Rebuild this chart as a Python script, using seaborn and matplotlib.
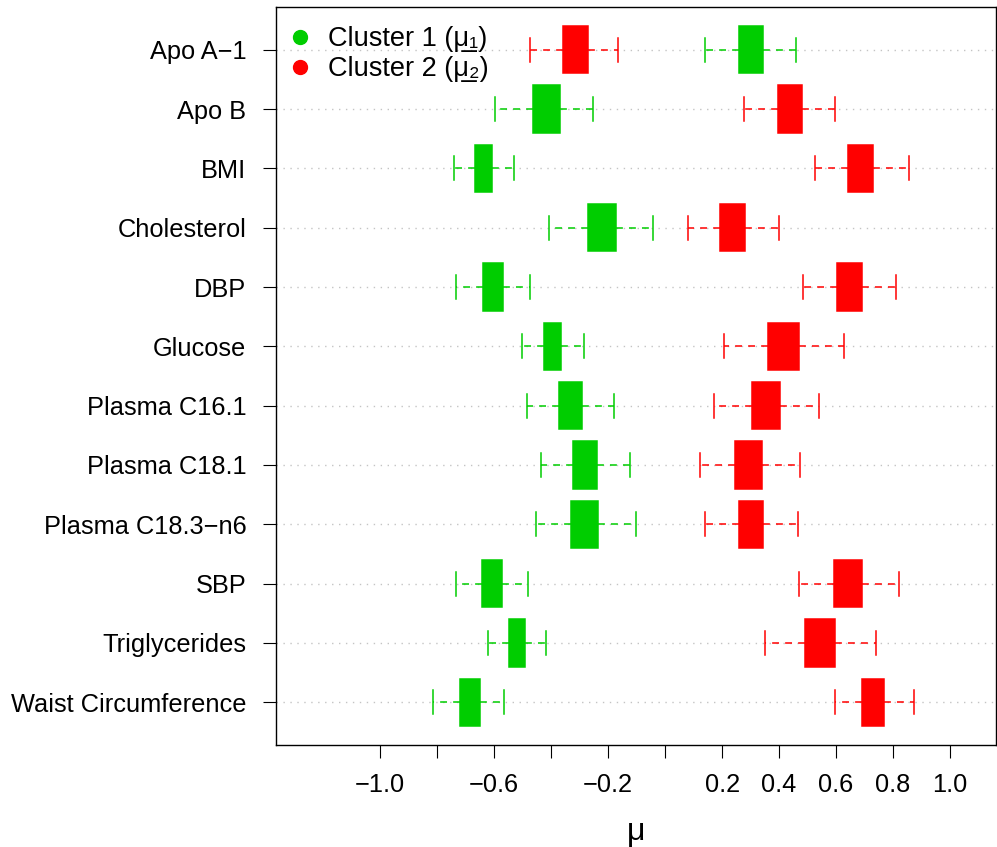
import numpy as np
import pandas as pd
import matplotlib
matplotlib.use("Agg")
import matplotlib.pyplot as plt
from matplotlib.lines import Line2D
import seaborn as sns

plt.rcParams['font.family'] = ['Liberation Sans', 'DejaVu Sans']

categories = ["Apo A\u22121", "Apo B", "BMI", "Cholesterol", "DBP", "Glucose",
              "Plasma C16.1", "Plasma C18.1", "Plasma C18.3\u2212n6", "SBP",
              "Triglycerides", "Waist Circumference"]

# Cluster 1 (green): whisker low, Q1, median, Q3, whisker high
c1_low  = [0.139, -0.596, -0.740, -0.406, -0.733, -0.501, -0.483, -0.436, -0.452, -0.734, -0.622, -0.813]
c1_q1   = [0.260, -0.462, -0.666, -0.270, -0.638, -0.425, -0.372, -0.322, -0.329, -0.641, -0.547, -0.718]
c1_med  = [0.300, -0.415, -0.636, -0.220, -0.604, -0.395, -0.330, -0.280, -0.280, -0.607, -0.518, -0.684]
c1_q3   = [0.344, -0.369, -0.607, -0.173, -0.569, -0.365, -0.290, -0.238, -0.234, -0.573, -0.490, -0.650]
c1_high = [0.460, -0.253, -0.529, -0.041, -0.474, -0.284, -0.179, -0.123, -0.102, -0.482, -0.418, -0.565]

# Cluster 2 (red)
c2_low  = [-0.473, 0.277, 0.525, 0.082, 0.483, 0.207, 0.171, 0.122, 0.141, 0.470, 0.351, 0.595]
c2_q1   = [-0.357, 0.395, 0.641, 0.192, 0.604, 0.362, 0.306, 0.246, 0.259, 0.594, 0.492, 0.692]
c2_med  = [-0.315, 0.440, 0.685, 0.235, 0.646, 0.415, 0.355, 0.293, 0.302, 0.642, 0.543, 0.730]
c2_q3   = [-0.271, 0.482, 0.730, 0.280, 0.690, 0.471, 0.404, 0.340, 0.345, 0.690, 0.595, 0.767]
c2_high = [-0.164, 0.596, 0.855, 0.398, 0.809, 0.628, 0.540, 0.474, 0.466, 0.821, 0.740, 0.875]

xticks = [-1.0, -0.8, -0.6, -0.4, -0.2, 0.0, 0.2, 0.4, 0.6, 0.8, 1.0]
xticklabels = ["\u22121.0", "", "\u22120.6", "", "\u22120.2", "", "0.2", "0.4", "0.6", "0.8", "1.0"]

green = "#00CD00"
red = "#FF0000"


def long_frame(low, q1, med, q3, high):
    rows = []
    for cat, a, b, c, d, e in zip(categories, low, q1, med, q3, high):
        for v in (a, b, c, d, e):
            rows.append({"variable": cat, "value": v})
    return pd.DataFrame(rows)


df1 = long_frame(c1_low, c1_q1, c1_med, c1_q3, c1_high)
df2 = long_frame(c2_low, c2_q1, c2_med, c2_q3, c2_high)

fig = plt.figure(figsize=(9.97, 8.47), dpi=100)
ax = fig.add_axes([276 / 997, 1 - 745 / 847, 720 / 997, 738 / 847])

common = dict(x="value", y="variable", order=categories, orient="h", width=0.8,
              whis=(0, 100), saturation=1, linewidth=1.1, fliersize=0,
              whiskerprops=dict(linestyle=(0, (4.5, 4.0))), ax=ax)
sns.boxplot(data=df1, color=green, linecolor=green, **common)
sns.boxplot(data=df2, color=red, linecolor=red, **common)

ax.set_xlim(-1.365, 1.161)
ax.set_ylim(11.72, -0.72)
ax.set_xticks(xticks)
ax.set_xticklabels(xticklabels)
ax.set_ylabel("")
ax.set_xlabel("\u03bc", fontsize=23, labelpad=14)
ax.grid(axis="y", color="#c4c4c4", linestyle=(0, (1, 4)), linewidth=1.0)
ax.grid(axis="x", visible=False)
ax.set_axisbelow(True)
for s in ax.spines.values():
    s.set_visible(True)
    s.set_color("black")
    s.set_linewidth(1.0)
ax.tick_params(axis="both", direction="out", length=9.4, width=0.8, labelsize=18.3,
               colors="black")
ax.tick_params(axis="x", pad=11)
ax.tick_params(axis="y", pad=12)

handles = [Line2D([], [], linestyle="none", marker="o", markersize=10,
                  markerfacecolor=green, markeredgecolor=green),
           Line2D([], [], linestyle="none", marker="o", markersize=10,
                  markerfacecolor=red, markeredgecolor=red)]
labels = ["Cluster 1 (\u03bc\u0332\u2081)", "Cluster 2 (\u03bc\u0332\u2082)"]
ax.legend(handles, labels, loc="upper left", frameon=False, fontsize=19.5,
          handlelength=1.0, handletextpad=0.55, labelspacing=0.15,
          borderaxespad=0.0, borderpad=0.0,
          bbox_to_anchor=(10 / 720, 1 - 19 / 738))

fig.savefig("out.png", dpi=100)
